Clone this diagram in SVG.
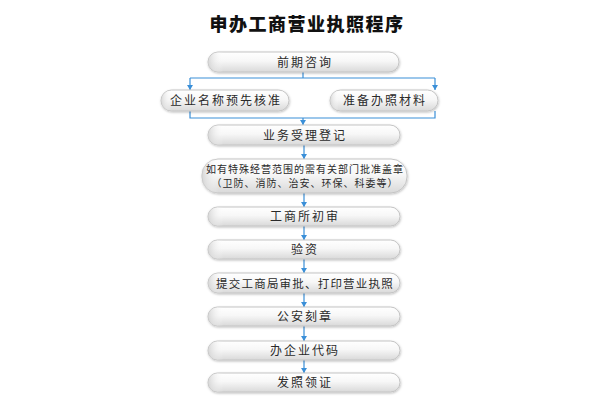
<svg xmlns="http://www.w3.org/2000/svg" width="600" height="400" viewBox="0 0 600 400">
<defs>
<linearGradient id="g" x1="0" y1="0" x2="0" y2="1">
<stop offset="0" stop-color="#ffffff"/>
<stop offset="0.45" stop-color="#f7f7f7"/>
<stop offset="1" stop-color="#d9d9d9"/>
</linearGradient>
<linearGradient id="gl" x1="0" y1="0" x2="1" y2="0">
<stop offset="0" stop-color="#cfcfcf" stop-opacity="0.8"/>
<stop offset="0.08" stop-color="#ffffff" stop-opacity="0"/>
<stop offset="1" stop-color="#ffffff" stop-opacity="0"/>
</linearGradient>
<filter id="sh" x="-10%" y="-30%" width="120%" height="160%">
<feDropShadow dx="0.5" dy="1" stdDeviation="0.8" flood-color="#000" flood-opacity="0.25"/>
</filter>
<marker id="ah" viewBox="0 0 5 6" refX="5" refY="3" markerWidth="5" markerHeight="6" markerUnits="userSpaceOnUse" orient="auto">
<path d="M0,0 L5,3 L0,6 Z" fill="#3a8fd8"/>
</marker>
</defs>
<style>
.box{fill:url(#g);stroke:#c4c4c4;stroke-width:1;filter:url(#sh)}
.lt{fill:url(#gl);stroke:none}
.t{font-family:"Noto Sans CJK SC","Noto Sans",sans-serif;font-size:12px;fill:#2a2a2a;text-anchor:middle;letter-spacing:2px}
.ts{font-family:"Noto Sans CJK SC","Noto Sans",sans-serif;font-size:10px;fill:#2a2a2a;text-anchor:middle;letter-spacing:1px}
.c{fill:none;stroke:#3a8fd8;stroke-width:1.2}
.title{font-family:"Noto Sans CJK SC",sans-serif;font-size:18px;font-weight:900;fill:#111;text-anchor:middle;letter-spacing:1.5px}
</style>
<rect width="600" height="400" fill="#ffffff"/>
<text class="title" x="307" y="31">申办工商营业执照程序</text>
<g id="connectors">
<path class="c" d="M303,72 V78 M190,78 H435"/>
<path class="c" d="M190,78 V90" marker-end="url(#ah)"/>
<path class="c" d="M435,78 V90" marker-end="url(#ah)"/>
<path class="c" d="M190,111 V118 H435 V111"/>
<path class="c" d="M303,118 V125" marker-end="url(#ah)"/>
<path class="c" d="M304,145 V159" marker-end="url(#ah)"/>
<path class="c" d="M304,193 V207" marker-end="url(#ah)"/>
<path class="c" d="M304,226 V240" marker-end="url(#ah)"/>
<path class="c" d="M304,259 V273" marker-end="url(#ah)"/>
<path class="c" d="M304,293 V307" marker-end="url(#ah)"/>
<path class="c" d="M304,326 V341" marker-end="url(#ah)"/>
<path class="c" d="M304,360 V373" marker-end="url(#ah)"/>
</g>
<g id="n1"><rect class="box" x="208" y="52" width="191" height="20" rx="10"/><rect class="lt" x="208" y="52" width="191" height="20" rx="10"/><text class="t" x="305" y="66.5">前期咨询</text></g>
<g id="n2"><rect class="box" x="161" y="90" width="128" height="21" rx="10.5"/><rect class="lt" x="161" y="90" width="128" height="21" rx="10.5"/><text class="t" x="226" y="105">企业名称预先核准</text></g>
<g id="n3"><rect class="box" x="330" y="90" width="108" height="21" rx="10.5"/><rect class="lt" x="330" y="90" width="108" height="21" rx="10.5"/><text class="t" x="385" y="105">准备办照材料</text></g>
<g id="n4"><rect class="box" x="208" y="125" width="192" height="20" rx="10"/><rect class="lt" x="208" y="125" width="192" height="20" rx="10"/><text class="t" x="305" y="139.5">业务受理登记</text></g>
<g id="n5"><rect class="box" x="202" y="159" width="205" height="34" rx="16"/><rect class="lt" x="202" y="159" width="205" height="34" rx="16"/><text class="ts" x="305" y="173">如有特殊经营范围的需有关部门批准盖章</text><text class="ts" x="305" y="187">（卫防、消防、治安、环保、科委等）</text></g>
<g id="n6"><rect class="box" x="208" y="207" width="192" height="19" rx="9.5"/><rect class="lt" x="208" y="207" width="192" height="19" rx="9.5"/><text class="t" x="305" y="221">工商所初审</text></g>
<g id="n7"><rect class="box" x="208" y="240" width="192" height="19" rx="9.5"/><rect class="lt" x="208" y="240" width="192" height="19" rx="9.5"/><text class="t" x="305" y="254">验资</text></g>
<g id="n8"><rect class="box" x="208" y="273" width="192" height="20" rx="10"/><rect class="lt" x="208" y="273" width="192" height="20" rx="10"/><text class="t" x="305" y="287.5" style="font-size:11.5px;letter-spacing:1.2px">提交工商局审批、打印营业执照</text></g>
<g id="n9"><rect class="box" x="208" y="307" width="192" height="19" rx="9.5"/><rect class="lt" x="208" y="307" width="192" height="19" rx="9.5"/><text class="t" x="305" y="321">公安刻章</text></g>
<g id="n10"><rect class="box" x="208" y="341" width="192" height="19" rx="9.5"/><rect class="lt" x="208" y="341" width="192" height="19" rx="9.5"/><text class="t" x="305" y="355">办企业代码</text></g>
<g id="n11"><rect class="box" x="208" y="373" width="192" height="19" rx="9.5"/><rect class="lt" x="208" y="373" width="192" height="19" rx="9.5"/><text class="t" x="305" y="387">发照领证</text></g>
</svg>
